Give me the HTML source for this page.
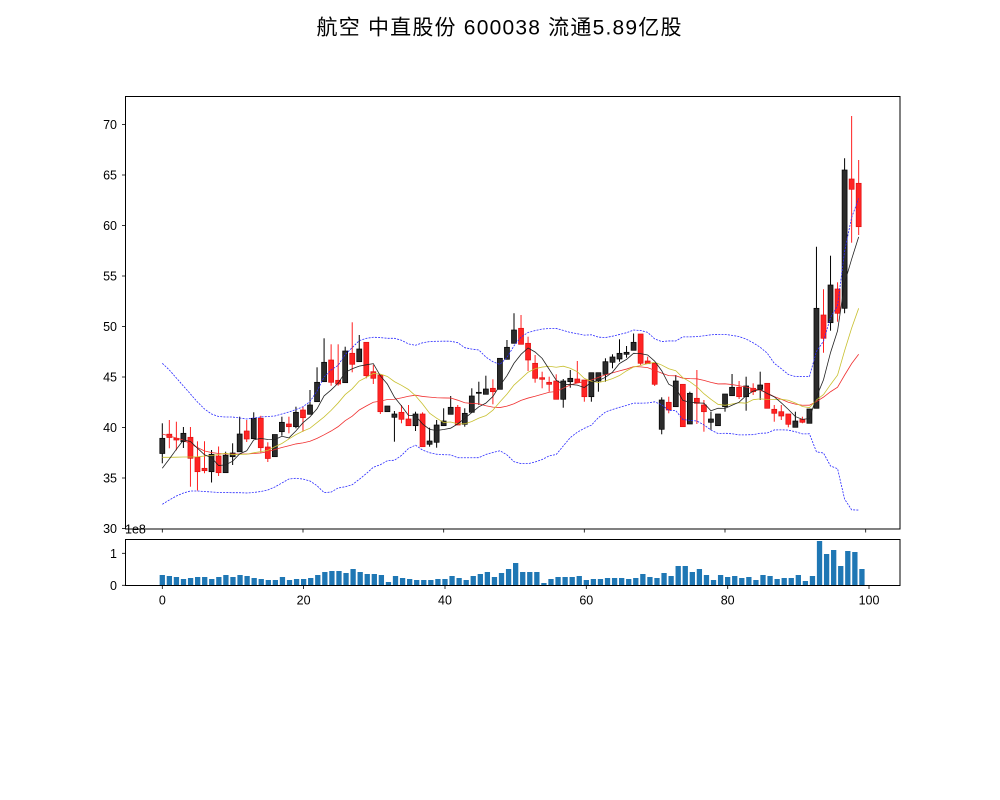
<!DOCTYPE html>
<html><head><meta charset="utf-8">
<style>
html,body{margin:0;padding:0;background:#fff;}
svg{display:block;}
text{font-family:"Liberation Sans","WenQuanYi Zen Hei","Noto Sans CJK SC",sans-serif;fill:#000;}
</style></head><body>
<svg id="c" width="1000" height="800" viewBox="0 0 1000 800" xmlns="http://www.w3.org/2000/svg">
<rect width="1000" height="800" fill="#fff"/>
<text x="499" y="34.5" font-size="21" text-anchor="middle" textLength="365" lengthAdjust="spacing">航空 中直股份 600038 流通5.89亿股</text>
<g id="cand"></g>
<g id="lines"></g>
<g id="vol"></g>
<rect x="125.5" y="96.5" width="774.5" height="432.5" fill="none" stroke="#000" stroke-width="1"/>
<rect x="125.5" y="539.5" width="774.5" height="46" fill="none" stroke="#000" stroke-width="1"/>
<g stroke="#000" stroke-width="0.8">
<line x1="122" x2="125.5" y1="528.5" y2="528.5"/>
<line x1="122" x2="125.5" y1="478" y2="478"/>
<line x1="122" x2="125.5" y1="427.5" y2="427.5"/>
<line x1="122" x2="125.5" y1="377" y2="377"/>
<line x1="122" x2="125.5" y1="326.5" y2="326.5"/>
<line x1="122" x2="125.5" y1="276" y2="276"/>
<line x1="122" x2="125.5" y1="225.5" y2="225.5"/>
<line x1="122" x2="125.5" y1="175" y2="175"/>
<line x1="122" x2="125.5" y1="124.5" y2="124.5"/>
<line x1="122" x2="125.5" y1="553.3" y2="553.3"/>
<line x1="122" x2="125.5" y1="585.3" y2="585.3"/>
<line x1="162.3" x2="162.3" y1="529" y2="532.5"/>
<line x1="303" x2="303" y1="529" y2="532.5"/>
<line x1="443.7" x2="443.7" y1="529" y2="532.5"/>
<line x1="584.3" x2="584.3" y1="529" y2="532.5"/>
<line x1="725" x2="725" y1="529" y2="532.5"/>
<line x1="865.7" x2="865.7" y1="529" y2="532.5"/>
<line x1="162.3" x2="162.3" y1="585.5" y2="589"/>
<line x1="303.6" x2="303.6" y1="585.5" y2="589"/>
<line x1="445" x2="445" y1="585.5" y2="589"/>
<line x1="586.3" x2="586.3" y1="585.5" y2="589"/>
<line x1="727.7" x2="727.7" y1="585.5" y2="589"/>
<line x1="869" x2="869" y1="585.5" y2="589"/>
</g>
<g font-size="12.5" text-anchor="end">
<text x="117" y="533">30</text>
<text x="117" y="482.5">35</text>
<text x="117" y="432">40</text>
<text x="117" y="381.5">45</text>
<text x="117" y="331">50</text>
<text x="117" y="280.5">55</text>
<text x="117" y="230">60</text>
<text x="117" y="179.5">65</text>
<text x="117" y="129">70</text>
<text x="117" y="557.8">1</text>
<text x="117" y="589.8">0</text>
</g>
<text x="125" y="533.3" font-size="12.5">1e8</text>
<g font-size="12.5" text-anchor="middle">
<text x="162.3" y="604.5">0</text>
<text x="303.6" y="604.5">20</text>
<text x="445" y="604.5">40</text>
<text x="586.3" y="604.5">60</text>
<text x="727.7" y="604.5">80</text>
<text x="869" y="604.5">100</text>
</g>
</svg>
<script>
(function(){
var D=[
[1,438.3,453.5,423.3,463.3],[0,434.2,437.5,420,448.3],[0,438.3,440,421.7,450.3],[1,433.3,441.7,427,448],[0,437.3,458.3,427,486.7],
[0,457.3,471.7,441.3,490.5],[0,468.3,470.7,441.3,473.3],[1,454.3,471.7,450,482.5],[0,456,472.7,446.5,476],[1,455.2,472.7,451.7,472.7],
[1,453,456.7,443.3,465],[1,434,451.8,416.7,451.8],[0,431,439,420,442],[1,418.3,438.7,412.3,438.7],[0,418.3,447.7,415.8,452.7],
[0,447,458.5,442.3,462],[1,434.5,456.7,434.5,456.7],[1,422.3,431.7,416.7,435.7],[0,424,426.7,416.7,433.3],[1,412.3,426.7,406.7,428.3],
[0,410,417.7,406.7,431.7],[1,405,414.3,390,414.3],[1,382.3,401.7,367.3,401.7],[1,362.3,381.7,338.3,381.7],[0,360,382.3,344.3,385.7],
[0,380.3,384,344.3,385.7],[1,351,382.7,346.7,382.7],[0,353.3,364.3,322.3,372.3],[1,349,361.7,335,361.7],[0,342.3,375.7,342.3,378.3],
[0,371.7,378.3,365,384],[0,375,411.7,375,414],[1,406,411.7,406,412],[1,414,417.3,411,441.7],[0,412.3,419.3,405,423.3],
[0,419,425.7,405,425.7],[1,414,425.7,411.7,431],[0,414,446.7,412.3,446.7],[1,441,444.3,427.7,446.7],[1,425,442.3,420,447.7],
[1,421,425.7,408.3,425.7],[1,407.3,414.3,396,414.3],[0,407.3,425,405,425],[1,413.3,424.3,408.3,426.7],[1,396,412.3,388.3,412.3],
[1,392.3,393.3,381.7,405],[1,389,394.3,375.7,394.3],[0,388.3,391.7,379.3,404.3],[1,358.3,389.3,358.3,389.3],[1,347.3,359.3,340,359.3],
[1,330,343.3,313.3,343.3],[0,328.3,344.3,315,344.3],[0,343.3,360,336.7,371],[0,363.3,378.3,355,382.7],[0,377.7,379.3,371.7,388.3],
[0,382.3,384.3,376.7,391.7],[0,381,399.3,374.3,399.3],[1,381,399.3,379,407.7],[1,378.3,381.7,370,387.7],[0,379,382.7,361,382.7],
[0,380,396.7,380,401.7],[1,372.7,396.7,372.7,401.7],[1,372.7,381,372.7,391.7],[1,361.7,374.3,358.3,381.7],[1,357,362.3,354.3,368.3],
[1,353.3,359,339.3,361.7],[1,352.3,354.3,346,357.7],[1,342.3,350.3,333.5,350.3],[0,334,363.3,334,365],[0,361,363.7,356.7,363.7],
[0,363.3,384.3,363.3,386],[1,400,429.3,397.3,434.3],[0,402.3,410,396.7,413.3],[1,381,406.7,375,406.7],[0,384.3,426.7,384.3,426.7],
[1,393.3,424,391.7,424],[0,398.3,403.3,370,424],[0,405,411.7,400,431.7],[1,419,422.3,411.7,430],[1,414,425.7,414,425.7],
[1,394,406.7,394,411.7],[1,387.3,395.7,374,395.7],[0,387.3,396.7,381,399],[1,386,396.7,376.7,410.7],[0,388.3,391.7,383.3,395],
[1,385,389.3,371.7,400],[0,383.3,408.3,383.3,408.3],[0,409.3,413.3,405,421.7],[0,411.7,416,405,420],[0,414,424.3,414,427.3],
[1,421,427.3,411.7,427.3],[0,419.3,422.3,416.7,423.3],[1,409,423.3,409,423.3],[1,308.3,408.3,246.7,408.3],[0,315,338.3,289.3,352.7],
[1,285,322.7,255.7,330.7],[0,289,313.3,282.3,321.7],[1,170,308.3,158.3,313.3],[0,179,189.3,116,242.7],[0,183.3,226.7,160,235]
];
var V=[575,576,577,579,578,577,577,579,577,575,577,575,576,578,579,580,580,577,580,579,
579,578,575,572,571,571,573,569,572,574,574,575,582,576,578,579,580,580,580,579,
579,576,578,580,576,574,572,577,573,569,563,572,572,572,583,579,577,577,577,576,
580,579,579,578,578,578,579,578,574,577,578,573,576,566,566,572,569,575,580,575,
577,576,578,577,580,575,576,579,578,578,575,581,576,541,554,550,566,551,552,569];
function X(i){return 162.3+7.034*i;}
function VX(i){return 162.3+7.067*i;}
function f(v){return (Math.round(v*100)/100).toString();}
var s="";
var c=[];
for(var i=0;i<D.length;i++){
  var d=D[i],x=X(i);
  c.push(d[0]?d[1]:d[2]);
  var wc=d[0]?"#000":"#ff2020";
  s+='<line x1="'+f(x)+'" x2="'+f(x)+'" y1="'+d[3]+'" y2="'+d[4]+'" stroke="'+wc+'" stroke-width="1"/>';
  var h=Math.max(d[2]-d[1],0.8);
  s+='<rect x="'+f(x-2.5)+'" y="'+d[1]+'" width="5" height="'+f(h)+'" fill="'+(d[0]?"#2b2b2b":"#ff2424")+'" stroke="'+(d[0]?"#000":"#e01010")+'" stroke-width="0.7"/>';
}
document.getElementById("cand").innerHTML=s;
var ma5E=[468.3,459,449.3,440];
var ma10E=[457.3,457.3,457.2,457,457,456.8,456,455.5,454.5];
var ma20E=[434,436,438,440,444,447.5,451,452.5,453.5,454,454,454,454,453.5,453,451.7,449.5,447.5,445.7];
var upE=[363.3,370,378,386,394,402,409,414,416.5,417,417,418,419,418,417,416.5,416,414,412];
var loE=[504.3,500,496,493,491,491,491.5,492,492.5,492.5,492.7,492.7,493,492.5,491.5,490,487,483,479];
function mean(n,i){var t=0;for(var k=i-n+1;k<=i;k++)t+=c[k];return t/n;}
function sd(n,i,m){var t=0;for(var k=i-n+1;k<=i;k++)t+=(c[k]-m)*(c[k]-m);return Math.sqrt(t/n);}
var p5=[],p10=[],p20=[],pu=[],pl=[];
for(var i=0;i<c.length;i++){
  var x=f(X(i));
  p5.push(x+","+f(i<4?ma5E[i]:mean(5,i)));
  p10.push(x+","+f(i<9?ma10E[i]:mean(10,i)));
  if(i<19){p20.push(x+","+f(ma20E[i]));pu.push(x+","+f(upE[i]));pl.push(x+","+f(loE[i]));}
  else{var m=mean(20,i),sdv=sd(20,i,m);p20.push(x+","+f(m));pu.push(x+","+f(m-2*sdv));pl.push(x+","+f(m+2*sdv));}
}
var L="";
L+='<polyline points="'+p20.join(" ")+'" fill="none" stroke="#f03030" stroke-width="0.8"/>';
L+='<polyline points="'+p10.join(" ")+'" fill="none" stroke="#c8c030" stroke-width="0.8"/>';
L+='<polyline points="'+p5.join(" ")+'" fill="none" stroke="#222" stroke-width="0.8"/>';
L+='<polyline points="'+pu.join(" ")+'" fill="none" stroke="#2a2aff" stroke-width="0.8" stroke-dasharray="2,1.2"/>';
L+='<polyline points="'+pl.join(" ")+'" fill="none" stroke="#2a2aff" stroke-width="0.8" stroke-dasharray="2,1.2"/>';
document.getElementById("lines").innerHTML=L;
var B="";
for(var i=0;i<V.length;i++){
  B+='<rect x="'+f(VX(i)-2.65)+'" y="'+V[i]+'" width="5.3" height="'+f(585.3-V[i])+'" fill="#1f77b4"/>';
}
document.getElementById("vol").innerHTML=B;
})();
</script>
</body></html>
